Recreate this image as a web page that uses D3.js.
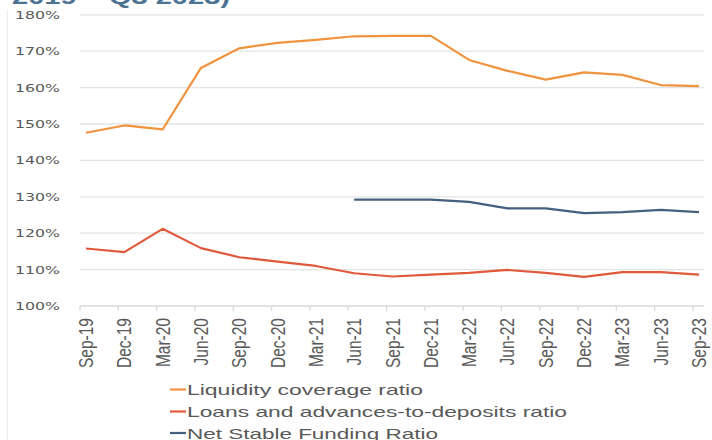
<!DOCTYPE html>
<html>
<head>
<meta charset="utf-8">
<script src="https://cdn.jsdelivr.net/npm/d3@7"></script>
<style>
  html, body { margin: 0; padding: 0; background: #fff; }
  svg { display: block; }
</style>
</head>
<body>
<div id="chart"></div>
<script>
// quarters on the x axis
const quarters = [`Sep-19`, `Dec-19`, `Mar-20`, `Jun-20`, `Sep-20`, `Dec-20`, `Mar-21`, `Jun-21`, `Sep-21`,
  `Dec-21`, `Mar-22`, `Jun-22`, `Sep-22`, `Dec-22`, `Mar-23`, `Jun-23`, `Sep-23`];

// ratios, in %
const liquidityCoverage = [147.6, 149.6, 148.5, 165.4, 170.8, 172.3, 173.1, 174.1, 174.2,
  174.2, 167.6, 164.6, 162.2, 164.2, 163.5, 160.7, 160.4];
const loansToDeposits = [115.8, 114.8, 121.2, 115.9, 113.4, 112.2, 111.0, 109.0, 108.1,
  108.6, 109.1, 109.9, 109.1, 108.0, 109.3, 109.3, 108.6];
const netStableFunding = [null, null, null, null, null, null, null, 129.2, 129.2,
  129.2, 128.6, 126.8, 126.8, 125.5, 125.8, 126.4, 125.8];

const yTicks = [100, 110, 120, 130, 140, 150, 160, 170, 180];
const seriesNames = [`Liquidity coverage ratio`, `Loans and advances-to-deposits ratio`, `Net Stable Funding Ratio`];

const width = 712;
const height = 440;
const colors = [`#f0933d`, `#e0593b`, `#43607e`];
const textColor = `#595959`;

const svg = d3.select(`#chart`).append(`svg`)
  .attr(`width`, width)
  .attr(`height`, height);

const x = d3.scalePoint()
  .domain(quarters)
  .range([86, 699]);

const y = d3.scaleLinear()
  .domain([100, 180])
  .range([306, 14.8]);

// cropped title from above the chart
svg.append(`text`)
  .attr(`x`, 12)
  .attr(`y`, 3.5)
  .attr(`textLength`, 218)
  .attr(`lengthAdjust`, `spacingAndGlyphs`)
  .style(`font-family`, `'Liberation Sans', sans-serif`)
  .style(`font-size`, `21px`)
  .style(`font-weight`, `bold`)
  .style(`fill`, `#4d7393`)
  .text(`2019 – Q3 2023)`);

// faint frame edge on the left
svg.append(`line`)
  .attr(`x1`, 7.5).attr(`x2`, 7.5)
  .attr(`y1`, 10).attr(`y2`, height)
  .attr(`stroke`, `#ececec`)
  .attr(`stroke-width`, 1);

// y grid lines
svg.append(`g`)
  .selectAll(`line`)
  .data(yTicks.slice(1))
  .enter().append(`line`)
  .attr(`x1`, 80).attr(`x2`, 704)
  .attr(`y1`, d => y(d)).attr(`y2`, d => y(d))
  .attr(`stroke`, `#e4e4e4`)
  .attr(`stroke-width`, 1.3);

// y axis labels
svg.append(`g`)
  .selectAll(`text`)
  .data(yTicks)
  .enter().append(`text`)
  .attr(`x`, 15)
  .attr(`y`, d => y(d) + 4)
  .attr(`textLength`, 45)
  .attr(`lengthAdjust`, `spacingAndGlyphs`)
  .style(`font-family`, `'DejaVu Sans', sans-serif`)
  .style(`font-size`, `11px`)
  .style(`fill`, textColor)
  .text(d => `${d}%`);

// x axis line and ticks
const xAxis = svg.append(`g`);
xAxis.append(`line`)
  .attr(`x1`, 80).attr(`x2`, 704)
  .attr(`y1`, y(100)).attr(`y2`, y(100))
  .attr(`stroke`, `#d9d9d9`)
  .attr(`stroke-width`, 1.3);
xAxis.selectAll(`.tick`)
  .data(quarters)
  .enter().append(`line`)
  .attr(`class`, `tick`)
  .attr(`x1`, d => x(d) - 6).attr(`x2`, d => x(d) - 6)
  .attr(`y1`, y(100)).attr(`y2`, y(100) + 5)
  .attr(`stroke`, `#d9d9d9`)
  .attr(`stroke-width`, 1.3);

// rotated quarter labels
xAxis.selectAll(`.label`)
  .data(quarters)
  .enter().append(`text`)
  .attr(`class`, `label`)
  .attr(`transform`, d => `translate(${x(d) + 7}, 318) rotate(-90) scale(1, 1.3)`)
  .attr(`text-anchor`, `end`)
  .style(`font-family`, `'Liberation Sans', sans-serif`)
  .style(`font-size`, `15.5px`)
  .style(`fill`, textColor)
  .text(d => d);

// series lines
const series = [liquidityCoverage, loansToDeposits, netStableFunding];
const line = d3.line()
  .defined(d => d.v !== null)
  .x(d => x(d.q))
  .y(d => y(d.v));

series.forEach((values, i) => {
  svg.append(`path`)
    .datum(quarters.map((q, j) => ({q: q, v: values[j]})))
    .attr(`d`, line)
    .attr(`fill`, `none`)
    .attr(`stroke`, colors[i])
    .attr(`stroke-width`, 2.2)
    .attr(`stroke-linejoin`, `round`);
});

// legend
const legendRows = [389.5, 411.5, 433];
const legendWidths = [236, 380, 251];
const legend = svg.append(`g`);
seriesNames.forEach((name, i) => {
  legend.append(`line`)
    .attr(`x1`, 170).attr(`x2`, 186)
    .attr(`y1`, legendRows[i]).attr(`y2`, legendRows[i])
    .attr(`stroke`, colors[i])
    .attr(`stroke-width`, 2.2);
  legend.append(`text`)
    .attr(`x`, 187)
    .attr(`y`, legendRows[i] + 5.5)
    .attr(`textLength`, legendWidths[i])
    .attr(`lengthAdjust`, `spacingAndGlyphs`)
    .style(`font-family`, `'Liberation Sans', sans-serif`)
    .style(`font-size`, `14.5px`)
    .style(`fill`, textColor)
    .text(name);
});
</script>
</body>
</html>
